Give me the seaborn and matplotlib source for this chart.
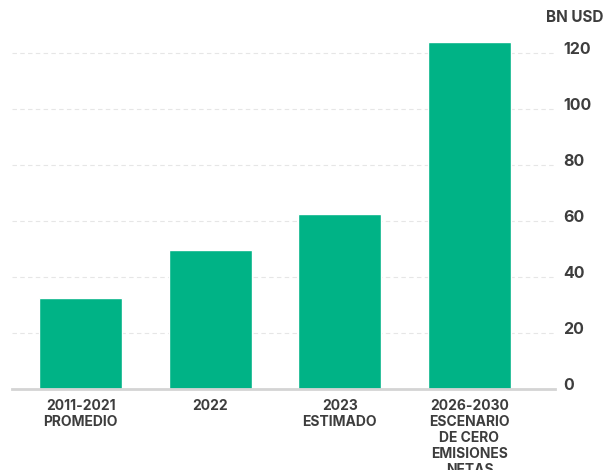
import matplotlib
matplotlib.use("Agg")
import matplotlib.pyplot as plt
import matplotlib.transforms as mtransforms
import seaborn as sns
import pandas as pd

# Data
categories = ["2011-2021\nPROMEDIO", "2022", "2023\nESTIMADO",
              "2026-2030\nESCENARIO\nDE CERO\nEMISIONES\nNETAS"]
values = [32.5, 49.6, 62.5, 124]
yticks = [0, 20, 40, 60, 80, 100, 120]

df = pd.DataFrame({"cat": categories, "val": values})

sns.set_style("white")
plt.rcParams["font.family"] = ["Inter", "DejaVu Sans"]

fig = plt.figure(figsize=(6.05, 4.7), dpi=100)
ax = fig.add_axes([12 / 605, 1 - 389 / 470, (555 - 12) / 605, (389 - 40) / 470])

sns.barplot(data=df, x="cat", y="val", color="#00b386", width=0.64,
            saturation=1, ax=ax)

ax.set_xlim(-0.53, 3.66)
ax.set_ylim(0, (389 - 40) / 2.8)
ax.set_yticks(yticks)
ax.yaxis.tick_right()
ax.grid(axis="y", color="#e6e6e6", linestyle=(0, (4, 3)), linewidth=0.8)
ax.set_axisbelow(True)

for s in ["top", "left", "right"]:
    ax.spines[s].set_visible(False)
ax.spines["bottom"].set_color("#d4d4d4")
ax.spines["bottom"].set_linewidth(2)

ax.tick_params(axis="both", length=0, labelcolor="#3d3d3d", labelsize=10)
ax.tick_params(axis="x", pad=7)
ax.tick_params(axis="y", pad=6)
for lab in ax.get_xticklabels() + ax.get_yticklabels():
    lab.set_fontweight("bold")
for lab in ax.get_xticklabels():
    lab.set_linespacing(1.18)
# y labels sit a little above their gridlines
shift = mtransforms.ScaledTranslation(0, 5 / 100, fig.dpi_scale_trans)
for lab in ax.get_yticklabels():
    lab.set_fontsize(11.5)
    lab.set_transform(lab.get_transform() + shift)

ax.set_xlabel("")
ax.set_ylabel("")
fig.text(604 / 605, 1 - 18 / 470, "BN USD", ha="right", va="center",
         fontsize=11, fontweight="bold", color="#3d3d3d")

fig.savefig("out.png", dpi=100)
